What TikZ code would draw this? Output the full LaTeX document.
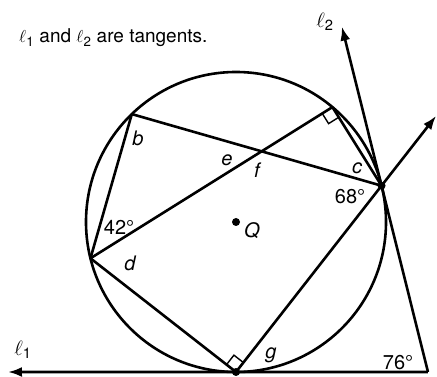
\documentclass[tikz,border=0pt]{standalone}
\usepackage{fontspec}
\setmainfont{TeX Gyre Heros}
\usetikzlibrary{calc,arrows.meta}
\begin{document}
\begin{tikzpicture}[x=1pt,y=1pt,
  geo/.style={line width=2.6pt,line join=round},
  ray/.style={geo,-{Latex[length=14pt,width=10pt]}},
  rtmark/.style={line width=1.4pt},
  lbl/.style={font=\fontsize{20}{20}\selectfont\itshape,inner sep=0pt},
  deg/.style={font=\fontsize{20}{20}\selectfont,inner sep=0pt},
  dotc/.style={fill=black,circle,inner sep=0pt,minimum size=8pt}]
\useasboundingbox (0,0) rectangle (437,-377);
\fill[white] (0,0) rectangle (437,-377);
% centre and points on the circle
\coordinate (Q) at (236,-222);
\coordinate (B) at ($(Q)+(134:150pt)$);
\coordinate (R) at ($(Q)+(50:150pt)$);
\coordinate (P) at ($(Q)+(14:150pt)$);
\coordinate (D) at ($(Q)+(194:150pt)$);
\coordinate (T) at ($(Q)+(270:150pt)$);
\coordinate (L1) at (8,-372);
\coordinate (L2) at ($(P)+(104:164pt)$);
\coordinate (F) at (intersection cs: first line={(P)--(L2)}, second line={(T)--(L1)});
\coordinate (S) at ($(T)!1.375!(P)$);
% circle and chords
\draw[geo] (Q) circle[radius=150pt];
\draw[geo] (B) -- (P);
\draw[geo] (B) -- (D);
\draw[geo] (D) -- (R) -- (P);
\draw[geo] (D) -- (T);
% tangents and secant
\draw[ray] (F) -- (L1);
\draw[ray] (F) -- (L2);
\draw[ray] (T) -- (S);
% right angle marks
\coordinate (r1) at ($(R)!12pt!(D)$);
\coordinate (r2) at ($(R)!12pt!(P)$);
\draw[rtmark] (r1) -- ($(r1)+(r2)-(R)$) -- (r2);
\coordinate (t1) at ($(T)!12pt!(D)$);
\coordinate (t2) at ($(T)!12pt!(P)$);
\draw[rtmark] (t1) -- ($(t1)+(t2)-(T)$) -- (t2);
% dots
\node[dotc] (dQ) at (Q) {};
\node[dotc] (dP) at (P) {};
\node[dotc] (dT) at (T) {};
% labels
\node[lbl] (lb) at (138,-138) {b};
\node[lbl] (le) at (227,-160) {e};
\node[lbl] (lf) at (257,-170) {f};
\node[lbl] (lc) at (357,-168) {c};
\node[deg] (l68) at (350,-197) {68°};
\node[deg] (l42) at (119,-227) {42°};
\node[lbl] (lQ) at (252,-231) {Q};
\node[lbl] (ld) at (130,-263) {d};
\node[lbl] (lg) at (271,-355) {g};
\node[deg] (l76) at (398,-363) {76°};
\node[inner sep=0pt,font=\fontsize{21}{21}\selectfont] (ll1) at (23,-350) {$\ell$\textsubscript{1}};
\node[inner sep=0pt,font=\fontsize{21}{21}\selectfont] (ll2) at (325,-22) {$\ell$\textsubscript{2}};
\node[inner sep=0pt,anchor=base west,font=\fontsize{19}{19}\selectfont] (title) at (19,-43) {$\ell$\textsubscript{1} and $\ell$\textsubscript{2} are tangents.};
\end{tikzpicture}
\end{document}
